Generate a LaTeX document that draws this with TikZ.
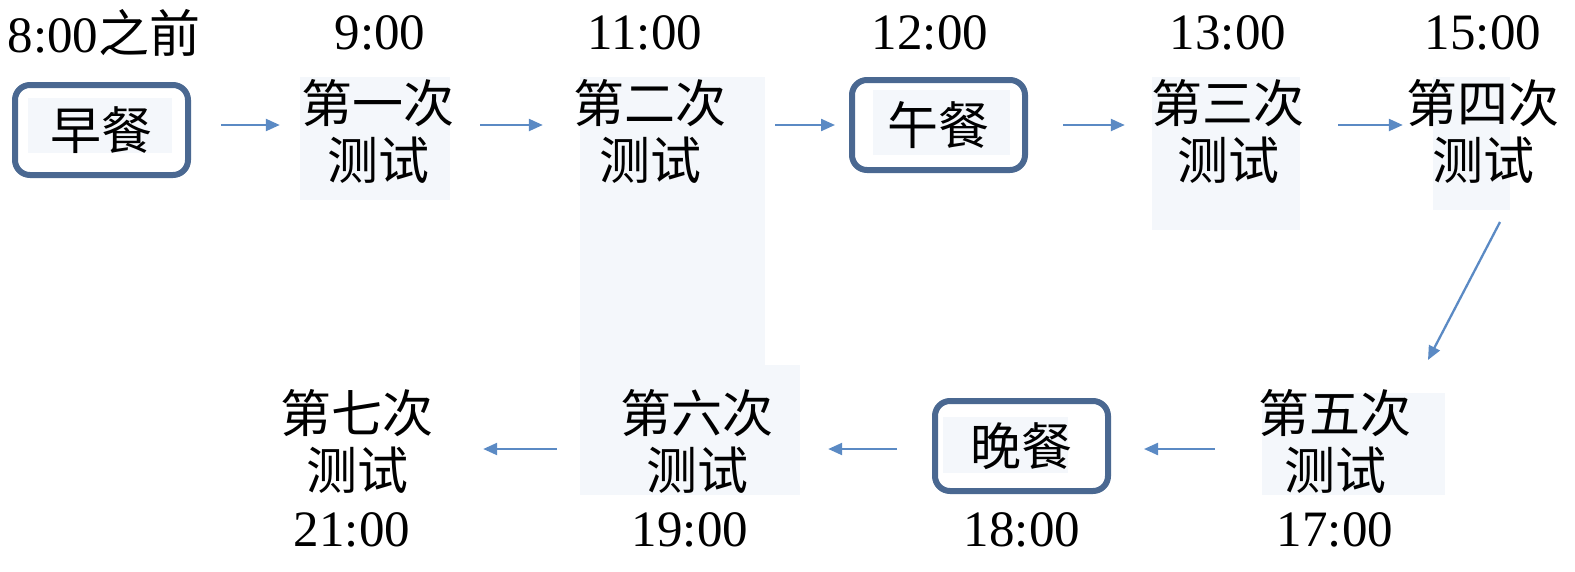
\documentclass[tikz,border=0pt]{standalone}
\usepackage{fontspec}
\setmainfont{Liberation Serif}
\newfontfamily\cjk{Noto Sans CJK SC}
\usetikzlibrary{arrows.meta}
\definecolor{boxblue}{HTML}{4A6891}
\definecolor{arrblue}{HTML}{5B8AC4}
\definecolor{pale}{HTML}{F4F7FB}
\begin{document}
\begin{tikzpicture}[x=1pt,y=-1pt,
  every node/.style={inner sep=0pt, font=\fontsize{51}{57}\selectfont},
  timelbl/.style={anchor=center},
  testlbl/.style={align=center, font=\fontsize{51}{57}\selectfont\cjk},
  mealbox/.style={draw=boxblue, line width=6pt, rounded corners=15pt, minimum width=173pt, minimum height=90pt, font=\fontsize{51}{57}\selectfont\cjk},
  arr/.style={draw=arrblue, line width=2.3pt, -{Triangle[length=14pt,width=12pt]}},
  palebg/.style={fill=pale}]
\useasboundingbox (0,0) rectangle (1575,571);
% pale backgrounds
\fill[palebg] (300,77) rectangle (450,200);
\fill[palebg] (580,77) rectangle (765,367);
\fill[palebg] (580,365) rectangle (800,495);
\fill[palebg] (1152,77) rectangle (1300,230);
\fill[palebg] (1433,77) rectangle (1510,210);
\fill[palebg] (1262,393) rectangle (1445,495);
\fill[palebg] (28,98) rectangle (172,153);
\fill[palebg] (873,90) rectangle (1010,155);
\fill[palebg] (943,417) rectangle (1068,473);
% rows
\coordinate (rowA) at (0,125);
\coordinate (rowB) at (0,449);
% time labels
\node[timelbl] (h8) at (104,33) {8:00{\cjk 之前}};
\node[timelbl] (h9) at (380,33) {9:00};
\node[timelbl] (h11) at (645,33) {11:00};
\node[timelbl] (h12) at (930,33) {12:00};
\node[timelbl] (h13) at (1228,33) {13:00};
\node[timelbl] (h15) at (1483,33) {15:00};
\node[timelbl] (h17) at (1335,530) {17:00};
\node[timelbl] (h18) at (1022,530) {18:00};
\node[timelbl] (h19) at (690,530) {19:00};
\node[timelbl] (h21) at (352,530) {21:00};
% meal boxes
\node[mealbox] (b1) at (101.5,130) {早餐};
\node[mealbox] (b2) at (938.5,125) {午餐};
\node[mealbox] (b3) at (1021.5,446) {晚餐};
% tests
\node[testlbl] (t1) at (378,131.5) {第一次\\测试};
\node[testlbl] (t2) at (650,131.5) {第二次\\测试};
\node[testlbl] (t3) at (1228,131.5) {第三次\\测试};
\node[testlbl] (t4) at (1483,131.5) {第四次\\测试};
\node[testlbl] (t5) at (1335,441) {第五次\\测试};
\node[testlbl] (t6) at (697,441) {第六次\\测试};
\node[testlbl] (t7) at (357,441) {第七次\\测试};
% arrows
\draw[arr, shorten <=30pt, shorten >=21.5pt] (b1.east |- rowA) -- (t1.west |- rowA);
\draw[arr, shorten <=25.5pt, shorten >=30.5pt] (t1.east |- rowA) -- (t2.west |- rowA);
\draw[arr, shorten <=48.5pt, shorten >=14pt] (t2.east |- rowA) -- (b2.west |- rowA);
\draw[arr, shorten <=35pt, shorten >=26.5pt] (b2.east |- rowA) -- (t3.west |- rowA);
\draw[arr, shorten <=33.5pt, shorten >=3.5pt] (t3.east |- rowA) -- (t4.west |- rowA);
\coordinate (d1) at (1500,222);
\coordinate (d2) at (1428,360);
\draw[arr] (d1) -- (d2);
\draw[arr, shorten <=43.5pt, shorten >=33pt] (t5.west |- rowB) -- (b3.east |- rowB);
\draw[arr, shorten <=35pt, shorten >=54.5pt] (b3.west |- rowB) -- (t6.east |- rowB);
\draw[arr, shorten <=63.5pt, shorten >=49.5pt] (t6.west |- rowB) -- (t7.east |- rowB);
\end{tikzpicture}
\end{document}
